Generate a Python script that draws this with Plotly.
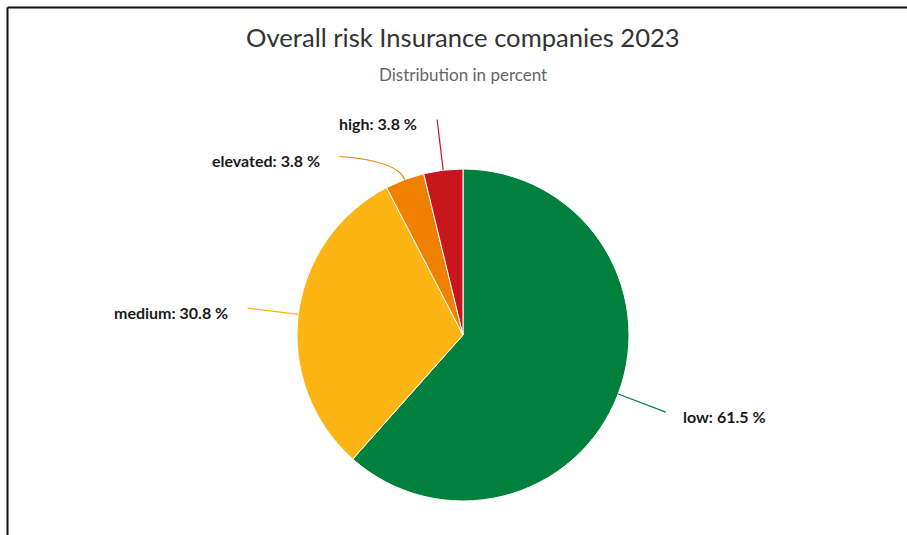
import math
import plotly.graph_objects as go

# Risk distribution data
categories = ["low", "medium", "elevated", "high"]
shares = [61.5, 30.8, 3.8, 3.8]
colors = ["#00803D", "#FDB515", "#F08100", "#C8161D"]

title_text = "Overall risk Insurance companies 2023"
subtitle_text = "Distribution in percent"

W, H = 907, 535
CX, CY, R = 463, 335, 166          # pie centre and radius in pixels
LABEL_R = R + 51                    # where connector lines end
MIN_GAP = 37                        # vertical spacing between labels on one side
FONT = "Lato, 'Source Sans Pro', 'Noto Sans', sans-serif"

fig = go.Figure()

fig.add_trace(go.Pie(
    labels=categories,
    values=shares,
    sort=False,
    direction="clockwise",
    rotation=0,
    textinfo="none",
    hoverinfo="label+percent",
    marker=dict(colors=colors, line=dict(color="#ffffff", width=1)),
    domain=dict(x=[(CX - R) / W, (CX + R) / W], y=[(H - CY - R) / H, (H - CY + R) / H]),
    showlegend=False,
))

# Mid angle of each slice (degrees clockwise from 12 o'clock)
total = sum(shares)
mids = []
acc = 0.0
for v in shares:
    mids.append((acc + v / 2) / total * 360.0)
    acc += v

# Initial label anchor points on a circle outside the pie
anchors = []
for i, a in enumerate(mids):
    t = math.radians(a)
    side = 1 if math.sin(t) >= 0 else -1
    anchors.append(dict(i=i, side=side, y=CY - LABEL_R * math.cos(t)))

# Spread labels vertically on each side so they don't collide
for side in (1, -1):
    group = sorted([p for p in anchors if p["side"] == side], key=lambda p: p["y"])
    for k in range(1, len(group)):
        if group[k]["y"] - group[k - 1]["y"] < MIN_GAP:
            group[k]["y"] = group[k - 1]["y"] + MIN_GAP
for p in anchors:
    dy = p["y"] - CY
    p["x"] = CX + p["side"] * math.sqrt(max(LABEL_R ** 2 - dy ** 2, 0))

shapes = []
annotations = []
for p in anchors:
    i = p["i"]
    t = math.radians(mids[i])
    sx, sy = CX + R * math.sin(t), CY - R * math.cos(t)
    kx, ky = CX + (R + 20) * math.sin(t), CY - (R + 20) * math.cos(t)
    ex, ey = p["x"], p["y"]
    shapes.append(dict(
        type="path", xref="x", yref="y",
        path=f"M {sx:.1f},{sy:.1f} Q {kx:.1f},{ky:.1f} {ex:.1f},{ey:.1f}",
        line=dict(color=colors[i], width=1.2),
    ))
    annotations.append(dict(
        x=ex + (15 if p["side"] > 0 else -18), y=ey + 4,
        xref="x", yref="y",
        xanchor="left" if p["side"] > 0 else "right", yanchor="middle",
        text=f"<b>{categories[i]}: {shares[i]} %</b>",
        showarrow=False,
        font=dict(family=FONT, size=16, color="#1a1a1a"),
    ))

# Frame lines along the top and left edges
shapes.append(dict(type="line", xref="x", yref="y", x0=7.5, y0=7.5, x1=W, y1=7.5,
                   line=dict(color="#111111", width=2)))
shapes.append(dict(type="line", xref="x", yref="y", x0=7.5, y0=7.5, x1=7.5, y1=H,
                   line=dict(color="#111111", width=2)))

annotations.append(dict(x=463, y=37, xref="x", yref="y", xanchor="center", yanchor="middle",
                        text=title_text, showarrow=False,
                        font=dict(family=FONT, size=25.6, color="#333333")))
annotations.append(dict(x=463, y=74, xref="x", yref="y", xanchor="center", yanchor="middle",
                        text=subtitle_text, showarrow=False,
                        font=dict(family=FONT, size=17, color="#666666")))

fig.update_layout(
    width=W, height=H,
    margin=dict(l=0, r=0, t=0, b=0),
    paper_bgcolor="#ffffff", plot_bgcolor="rgba(0,0,0,0)",
    xaxis=dict(range=[0, W], visible=False, fixedrange=True),
    yaxis=dict(range=[H, 0], visible=False, fixedrange=True),
    shapes=shapes,
    annotations=annotations,
)

fig.write_html("out.html")
